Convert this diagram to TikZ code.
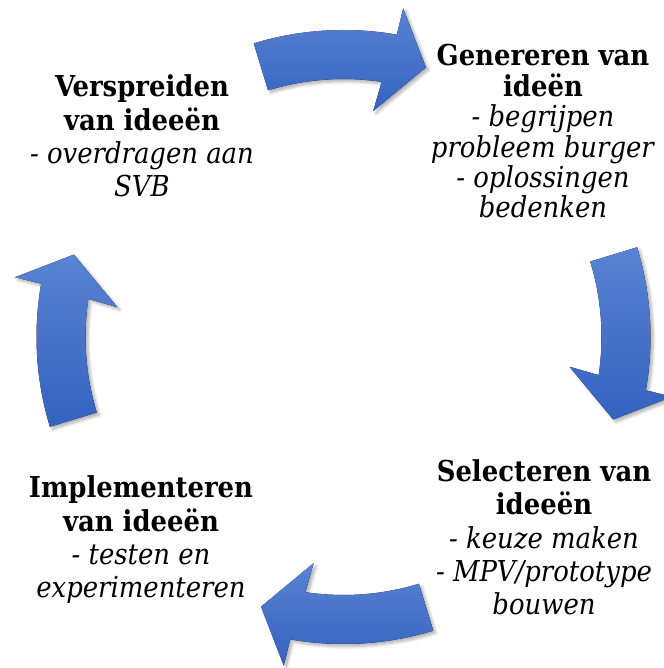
\documentclass[tikz,border=0pt]{standalone}
\usepackage{fontspec}
\setmainfont{DejaVu Serif Condensed}
\usepackage{tikz}
\usetikzlibrary{positioning,shadows.blur}

\definecolor{arrowtop}{RGB}{89,131,210}
\definecolor{arrowbot}{RGB}{52,98,192}

\tikzset{
    cyclearrow/.style={top color=arrowtop, bottom color=arrowbot, draw=none,
        blur shadow={shadow xshift=2pt, shadow yshift=-2pt, shadow opacity=30, shadow blur steps=6}},
    phase/.style={align=center, anchor=base, inner sep=0pt,
        font=\fontsize{21.6pt}{25pt}\selectfont},
    phase tight/.style={phase, font=\fontsize{21.6pt}{22.8pt}\selectfont}
}

\begin{document}
\begin{tikzpicture}[x=0.75pt, y=0.75pt]
    \useasboundingbox (0,0) rectangle (664,668);

    \begin{scope}[shift={(343.5,331)}]
        \foreach \a in {107,17,-73,-163}
            \fill[cyclearrow] (\a:307) arc[start angle=\a, end angle=\a-27, radius=307]
                -- ({\a-27.3}:334) -- ({\a-34}:282) -- ({\a-24.5}:228) -- ({\a-25.5}:258)
                arc[start angle=\a-25.5, end angle=\a, radius=258] -- cycle;
    \end{scope}

    % text anchored on the last line
    \node [phase tight] (genereren) at (543,450) {\textbf{Genereren van}\\\textbf{ideën}\\\textit{- begrijpen}\\\textit{probleem burger}\\\textit{- oplossingen}\\\textit{bedenken}};
    \node [phase] (selecteren) at (544,53) {\textbf{Selecteren van}\\\textbf{ideeën}\\\textit{- keuze maken}\\\textit{- MPV/prototype}\\\textit{bouwen}};
    \node [phase] (implementeren) at (141,70) {\textbf{Implementeren}\\\textbf{van ideeën}\\\textit{- testen en}\\\textit{experimenteren}};
    \node [phase] (verspreiden) at (142,471) {\textbf{Verspreiden}\\\textbf{van ideeën}\\\textit{- overdragen aan}\\\textit{SVB}};

\end{tikzpicture}
\end{document}
